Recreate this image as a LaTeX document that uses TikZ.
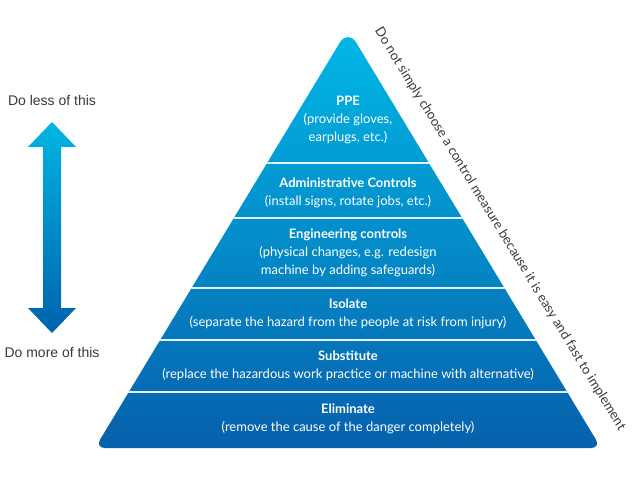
\documentclass[tikz,border=0pt]{standalone}
\usepackage{fontspec}
\setmainfont{Lato}
\newfontfamily\arialf{Liberation Sans}
\definecolor{ptop}{HTML}{00B8E6}
\definecolor{pmid}{HTML}{0396D2}
\definecolor{pbot}{HTML}{0760AC}
\definecolor{atop}{HTML}{00B5E3}
\definecolor{abot}{HTML}{0062AE}
\definecolor{labelgray}{HTML}{3A3A3A}
\begin{document}
\begin{tikzpicture}[x=1pt,y=-1pt,
  tiertext/.style={text=white, align=center, inner sep=0pt, font=\fontsize{13}{18}\selectfont},
  sidelabel/.style={text=labelgray, inner sep=0pt, font=\arialf\fontsize{14}{16}\selectfont},
  warnlabel/.style={text=labelgray, inner sep=0pt, font=\fontsize{13.3}{15}\selectfont},
  divider/.style={white, line width=1.6pt, opacity=0.9}
]
\useasboundingbox (0,0) rectangle (636,481);
\fill[white] (0,0) rectangle (636,481);
\coordinate (apex) at (348,29);
\coordinate (bl) at (95,448);
\coordinate (br) at (601,448);
\coordinate (bm) at (348,448);
% pyramid
\shade[top color=ptop, middle color=pmid, bottom color=pbot]
  (bm) [rounded corners=10pt] -- (br) [rounded corners=16pt] -- (apex) [rounded corners=10pt] -- (bl) -- cycle;
\begin{scope}
  \clip (bl) -- (br) -- (apex) -- cycle;
  \foreach \yy in {163,218,288,340,392}
    \draw[divider] (80,\yy) -- (620,\yy);
\end{scope}
% tier texts
\node[tiertext] (ppe) at (348,120) {\textbf{PPE}\\(provide gloves,\\earplugs, etc.)};
\node[tiertext] (adm) at (348,192.5) {\textbf{Administrative Controls}\\(install signs, rotate jobs, etc.)};
\node[tiertext] (eng) at (348,253) {\textbf{Engineering controls}\\(physical changes, e.g. redesign\\machine by adding safeguards)};
\node[tiertext] (iso) at (348,314) {\textbf{Isolate}\\(separate the hazard from the people at risk from injury)};
\node[tiertext] (sub) at (348,366) {\textbf{Substitute}\\(replace the hazardous work practice or machine with alternative)};
\node[tiertext] (eli) at (348,419) {\textbf{Eliminate}\\(remove the cause of the danger completely)};
% rotated warning
\node[warnlabel, rotate=-58.6] (warn) at (500,229) {Do not simply choose a control measure because it is easy and fast to implement};
% left arrow
\coordinate (atip) at (52,122);
\coordinate (btip) at (52,333);
\shade[top color=atop, bottom color=abot]
  (atip) -- (76,147) -- (61,147) -- (61,308) -- (76,308) -- (btip) -- (28,308) -- (43,308) -- (43,147) -- (28,147) -- cycle;
\node[sidelabel] (less) at (52,100) {Do less of this};
\node[sidelabel] (more) at (52,352) {Do more of this};
\end{tikzpicture}
\end{document}
